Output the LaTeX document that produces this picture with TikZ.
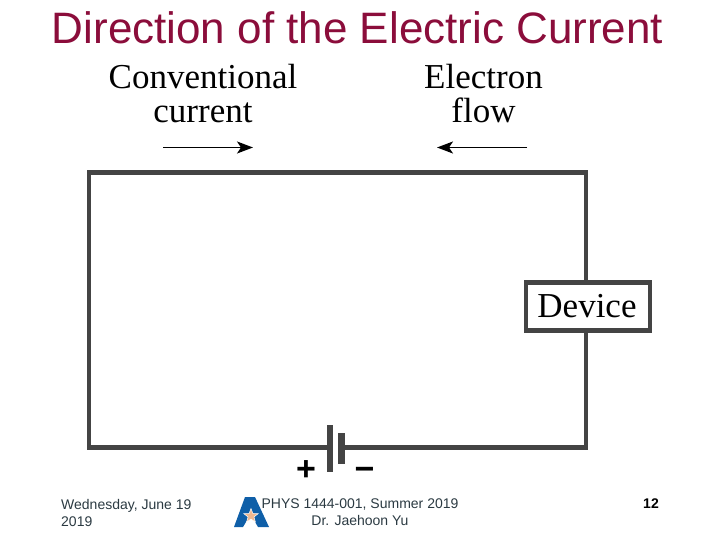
\documentclass[tikz,border=0pt]{standalone}
\usepackage{fontspec}
\setmainfont{Liberation Serif}
\setsansfont{Liberation Sans}
\usetikzlibrary{arrows.meta,shapes.geometric}
\definecolor{titlered}{HTML}{8B0D3B}
\definecolor{wiregray}{HTML}{444444}
\definecolor{footgray}{HTML}{2B3A42}
\definecolor{logoblue}{HTML}{0F5FA8}
\definecolor{logostar}{HTML}{F0B890}
\begin{document}
\begin{tikzpicture}[x=1pt, y=1pt,
                    main label/.style={align=center,inner sep=0pt,font=\fontsize{35}{35}\selectfont},
                    foot label/.style={inner sep=0pt,text=footgray,font=\sffamily\fontsize{14}{17}\selectfont},
                    sign label/.style={inner sep=0pt,font=\sffamily\bfseries\fontsize{34}{34}\selectfont},
                    wire/.style={draw=wiregray,line width=4.6pt},
                    plate/.style={fill=wiregray,inner sep=0pt,minimum width=6.5pt},
                    flow arrow/.style={line width=1.9pt,-{Stealth[length=16pt,width=12pt,inset=4pt]}}]
  \useasboundingbox (0,0) rectangle (720,-540);

  \node[inner sep=0pt,text=titlered,font=\sffamily\fontsize{44}{44}\selectfont] (title) at (357.5,-27.5) {Direction of the Electric Current};

  \node[main label] (conventional) at (203,-94) {Conventional\\[-1pt]current};
  \node[main label] (electron) at (483.5,-94) {Electron\\[-1pt]flow};

  % arrows under the labels
  \coordinate (c1) at (163,-147.5);
  \coordinate (c2) at (253,-147.5);
  \coordinate (e1) at (527,-147.5);
  \coordinate (e2) at (437,-147.5);
  \draw[flow arrow] (c1) -- (c2);
  \draw[flow arrow] (e1) -- (e2);

  % circuit
  \node[plate,minimum height=47pt] (long) at (330,-448.5) {};
  \node[plate,minimum height=31pt] (short) at (341.5,-448.5) {};
  \node[wire,fill=white,inner sep=0pt,minimum width=124pt,minimum height=48pt,main label] (device) at (588,-306.5) {\hspace*{-2pt}Device};
  \coordinate (bl) at (89,-447.5);
  \coordinate (tl) at (89,-172.5);
  \coordinate (tr) at (586,-172.5);
  \coordinate (br) at (586,-447.5);
  \draw[wire] (long.west |- bl) -- (bl) -- (tl) -- (tr) -- (tr |- device.north);
  \draw[wire] (tr |- device.south) -- (br) -- (short.east |- br);

  \node[sign label] (plus) at (306,-470.5) {+};
  \node[sign label] (minus) at (364.5,-474) {−};

  % footer
  \node[foot label,align=left,anchor=north west] (date) at (61,-499) {Wednesday, June 19\\2019};
  \node[foot label,align=center,anchor=north] (course) at (360,-499) {PHYS 1444-001, Summer 2019\\Dr. Jaehoon Yu};
  \node[foot label,anchor=east,text=black,font=\sffamily\bfseries\fontsize{14}{17}\selectfont] (page) at (659,-504) {12};

  % logo
  \fill[logoblue] (245,-497) -- (255,-497) -- (269,-527) -- (258,-527) -- (252,-517) -- (249,-517) -- (243,-527) -- (234,-527) -- cycle;
  \node[star,star points=5,star point ratio=2.4,fill=logostar,draw=white,line width=0.5pt,inner sep=0pt,minimum size=15pt] (logostar) at (251,-516) {};
\end{tikzpicture}
\end{document}
